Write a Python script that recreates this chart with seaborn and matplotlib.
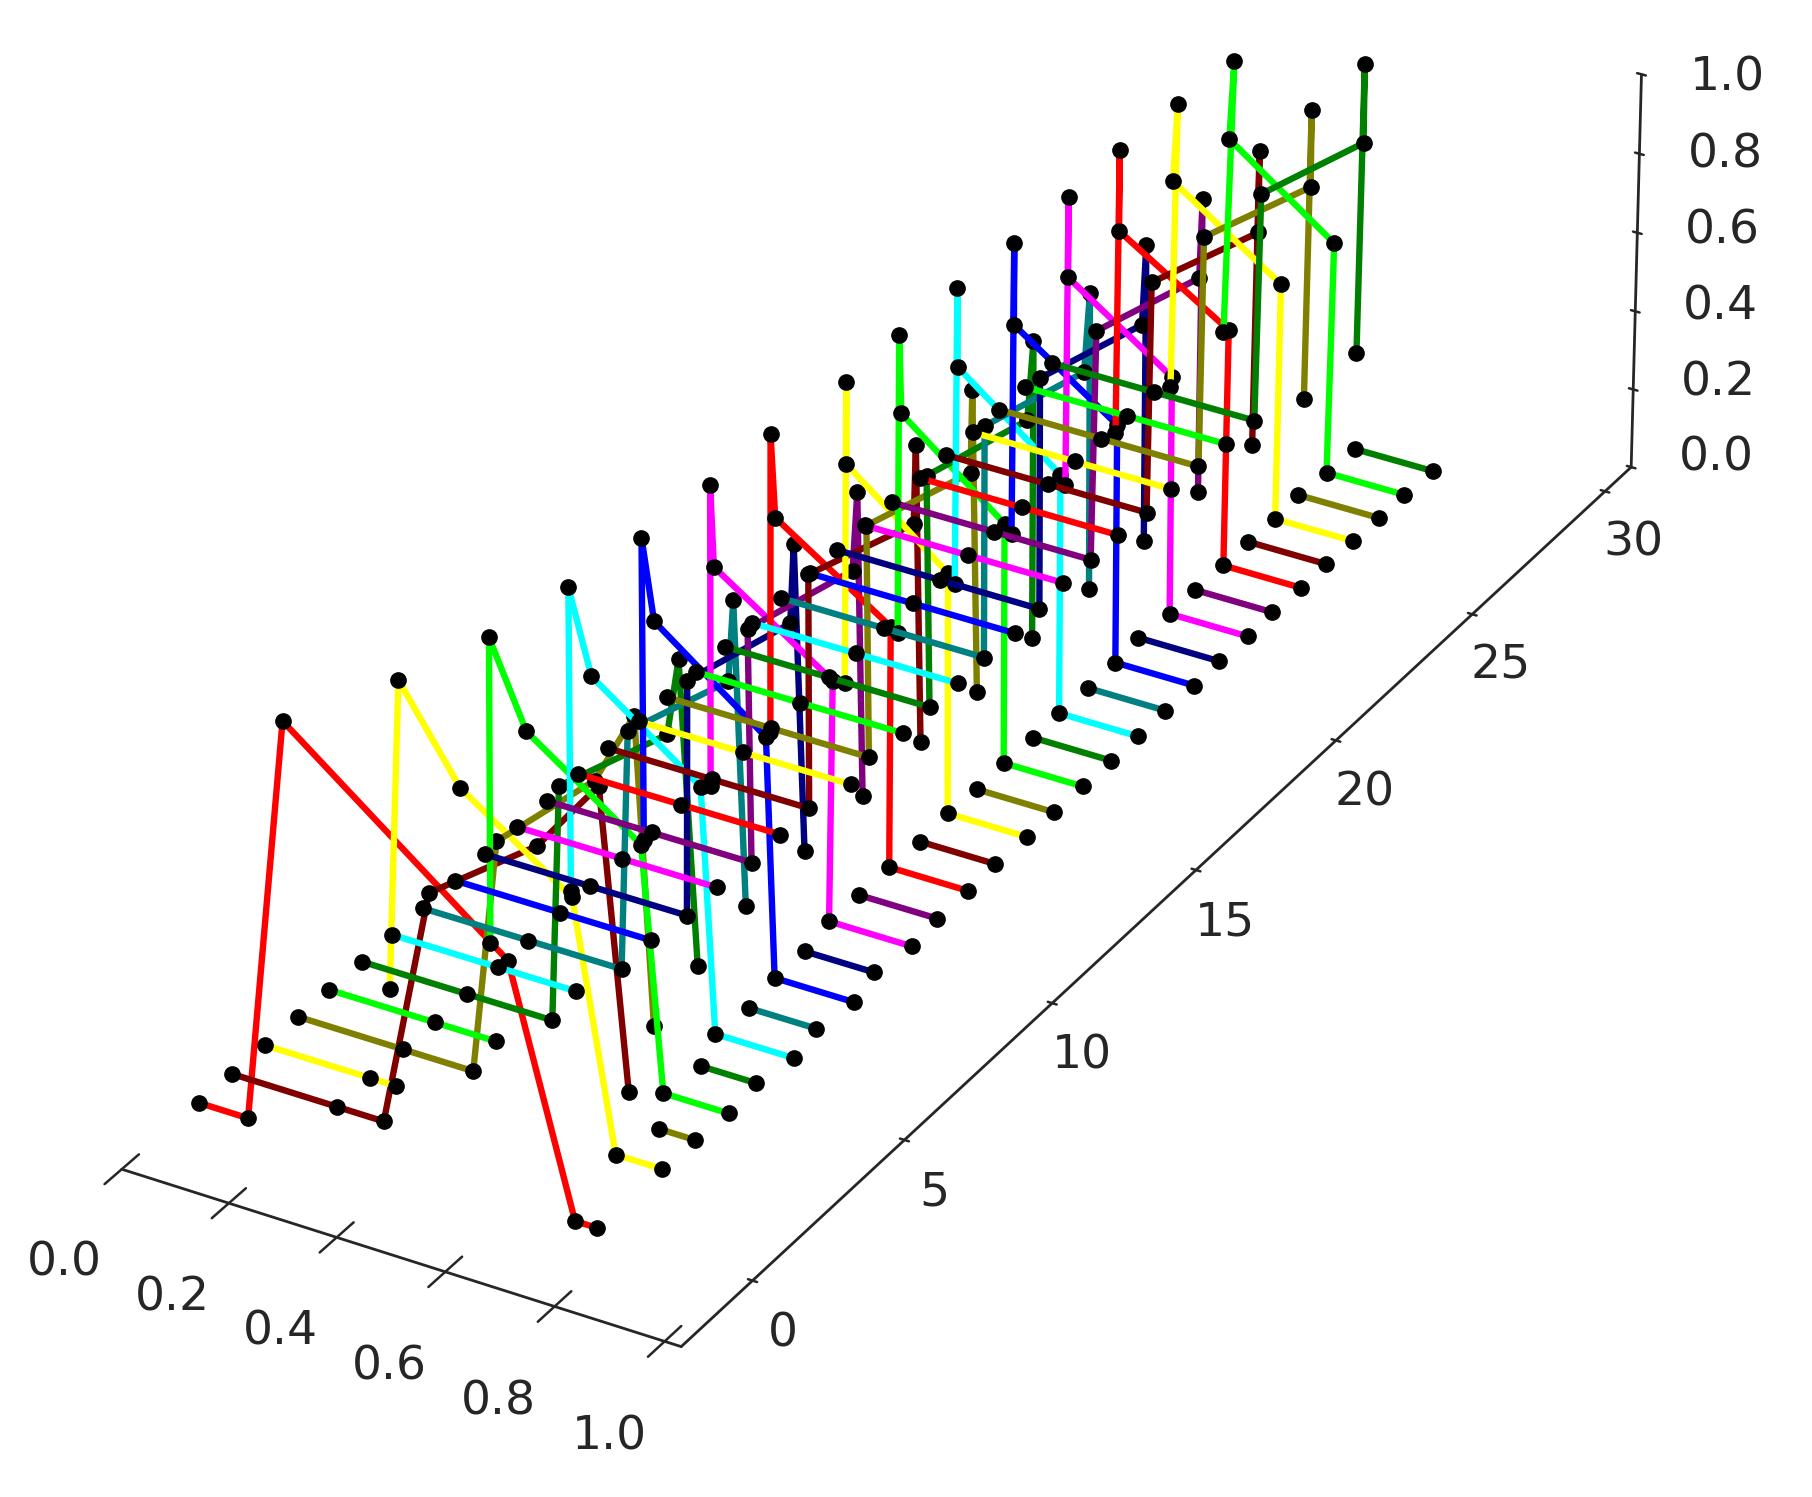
import numpy as np
import seaborn as sns
import matplotlib
matplotlib.use('Agg')
import matplotlib.pyplot as plt
from mpl_toolkits.mplot3d import proj3d

n = np.nan

color_names = ['red', 'maroon', 'yellow', 'olive', 'lime', 'green',
               'cyan', 'teal', 'blue', 'navy', 'magenta', 'purple']

x_ticks = [0.0, 0.2, 0.4, 0.6, 0.8, 1.0]
y_ticks = [0, 5, 10, 15, 20, 25, 30]
z_ticks = [0.0, 0.2, 0.4, 0.6, 0.8, 1.0]

# where each row below sits on the y axis
y_positions = [0.1, 1.15, 2.2, 3.25, 4.25, 5.3, 6.3, 7.3, 8.35, 9.35,
               10.4, 11.4, 12.45, 13.45, 14.5, 15.45, 16.45, 17.45, 18.4, 19.4,
               20.4, 21.35, 22.35, 23.3, 24.3, 25.25, 26.2, 27.15, 28.1, 29.1]

# one row per position along the y axis, nan breaks the line
line_x = [
    [0, .093, .175, .583, .700, .74],
    [0, .198, .285, .377, .577, .692, .741],
    [0, .198, .246, n, .238, .265, .376, .58, .655, .74],
    [0, .199, .330, .380, .563, .637, .668, n, .676, .742],
    [0, .200, .314, n, .307, .313, .380, .59, .627, .748],
    [0, .200, .360, .378, .580, .602, .633, n, .637, .74],
    [0, .200, .348, n, .340, .342, .383, .584, .608, .755],
    [0, .200, .376, .392, .580, .590, .610, n, .615, .74],
    [0, .200, .371, n, .360, .361, .383, .59, .604, .752],
    [0, .200, .383, .387, .580, .587, .605, n, .605, .735],
    [0, .200, .380, n, .370, .373, .379, .60, .592, .747],
    [0, .200, .390, .385, .582, .591, .600, n, .593, .74],
    [0, .196, .386, n, .368, .371, .379, .595, .592, .74],
    [0, .200, .385, .385, .583, .587, .596, n, .596, .736],
    [0, .200, .406, n, .395, .399, .399, .59, .59, .74],
    [0, .200, .388, .384, .580, .583, .593, n, .593, .74],
    [0, .200, .398, n, .388, .391, .395, .59, .59, .74],
    [0, .200, .394, .388, .578, .589, .589, n, .591, .739],
    [0, .200, .396, n, .390, .394, .395, .59, .59, .74],
    [0, .200, .392, .392, .580, .590, .592, n, .592, .738],
    [0, .200, .397, n, .390, .393, .393, .59, .59, .74],
    [0, .200, .393, .392, .585, .592, .592, n, .583, .738],
    [0, .200, .385, n, .388, .391, .391, .59, .59, .74],
    [0, .200, .387, .395, .590, .595, .592, n, .588, .736],
    [0, .200, .386, n, .380, .384, .384, .595, .59, .74],
    [0, .200, .391, .397, .600, .600, .593, n, .587, .738],
    [0, .200, .388, n, .385, .394, .386, .595, .59, .74],
    [0, .200, .391, .397, .600, .600, .593, n, .584, .741],
    [0, .200, .394, n, .387, .402, .394, .598, .59, .74],
    [0, .200, .397, .405, .600, .600, .593, n, .593, .745],
]
line_z = [
    [0, 0, 1.0, .586, 0, 0],
    [0, 0, 0, .597, .79, .98, .26],
    [0, 0, 0, n, .236, .998, .782, .598, 0, 0],
    [0, 0, 0, .585, .805, .99, .25, n, 0, 0],
    [0, 0, 0, n, .24, .988, .787, .595, 0, 0],
    [0, 0, 0, .585, .79, .98, .245, n, 0, 0],
    [0, 0, 0, n, .245, .99, .79, .60, 0, 0],
    [0, 0, 0, .595, .79, .99, .25, n, 0, 0],
    [0, 0, 0, n, .245, .988, .793, .59, 0, 0],
    [0, 0, 0, .585, .80, .995, .25, n, 0, 0],
    [0, 0, 0, n, .25, .993, .794, .60, 0, 0],
    [0, 0, 0, .58, .80, .995, .25, n, 0, 0],
    [0, 0, 0, n, .25, .988, .786, .60, 0, 0],
    [0, 0, 0, .585, .785, .98, .25, n, 0, 0],
    [0, 0, 0, n, .25, 1.0, .797, .60, 0, 0],
    [0, 0, 0, .58, .785, .99, .245, n, 0, 0],
    [0, 0, 0, n, .25, .992, .80, .60, 0, 0],
    [0, 0, 0, .58, .79, .99, .25, n, 0, 0],
    [0, 0, 0, n, .25, .99, .795, .60, 0, 0],
    [0, 0, 0, .585, .79, .99, .25, n, 0, 0],
    [0, 0, 0, n, .25, .98, .777, .60, 0, 0],
    [0, 0, 0, .585, .79, .99, .25, n, 0, 0],
    [0, 0, 0, n, .25, .977, .776, .60, 0, 0],
    [0, 0, 0, .585, .79, .99, .25, n, 0, 0],
    [0, 0, 0, n, .26, .975, .772, .60, 0, 0],
    [0, 0, 0, .59, .79, .995, .25, n, 0, 0],
    [0, 0, 0, n, .26, .98, .784, .60, 0, 0],
    [0, 0, 0, .59, .79, .985, .25, n, 0, 0],
    [0, 0, 0, n, .285, .98, .78, .59, 0, 0],
    [0, 0, 0, .585, .785, .985, .247, n, 0, 0],
]

sns.set_style('white')
plt.rcParams['font.family'] = 'DejaVu Sans'
palette = sns.color_palette([matplotlib.colors.to_rgb(c) for c in color_names])

fig = plt.figure(figsize=(18.12, 14.97), dpi=100)
ax = fig.add_axes([-0.0124, 0.0818, 1, 1], projection='3d')
ax.set_proj_type('persp', focal_length=2)

for i in range(len(line_x)):
    ys = np.full(len(line_x[i]), y_positions[i])
    ax.plot(line_x[i], ys, line_z[i], color=palette[i % 12], lw=4.6,
            marker='o', ms=11, mfc='k', mec='k')

ax.view_init(elev=30.4, azim=-60)
ax.set_xlim(0, 1.03, view_margin=0)
ax.set_ylim(-2.3, 31, view_margin=0)
ax.set_zlim(0, 1, view_margin=0)
ax.set_box_aspect((0.975, 3, 0.72), zoom=1.359)

ax.set_xticks(x_ticks)
ax.set_yticks(y_ticks)
ax.set_zticks(z_ticks)
ax.set_xticklabels(['%.1f' % t for t in x_ticks])
ax.set_zticklabels([])
ax.tick_params(axis='x', labelsize=34, colors='0.15', pad=22)
ax.tick_params(axis='y', labelsize=34, colors='0.15', pad=22)
ax.tick_params(axis='z', colors='0.15')

# z labels placed by hand, the default pad pushes them up along the long y axis
proj = ax.get_proj()
for t in z_ticks:
    px, py, _ = proj3d.proj_transform(1.153, 31.8, t - 0.012 + 0.032 * (1 - t), proj)
    ax.text2D(px, py, '%.1f' % t, transform=ax.transData, fontsize=34, color='0.15',
              ha='center', va='center')

for axis in [ax.xaxis, ax.yaxis, ax.zaxis]:
    axis.set_pane_color((1, 1, 1, 0))
    axis.pane.set_edgecolor((1, 1, 1, 0))
    axis.line.set_color('0.15')
    axis.line.set_linewidth(2)
    axis._axinfo['grid']['linewidth'] = 0
    axis._axinfo['tick']['inward_factor'] = 0.2
    axis._axinfo['tick']['outward_factor'] = 0.2
    axis._axinfo['tick']['linewidth'] = {True: 1.8, False: 1}
ax.zaxis._axinfo['tick']['inward_factor'] = 0.1
ax.zaxis._axinfo['tick']['outward_factor'] = 0.1
ax.yaxis._axinfo['tick']['inward_factor'] = 0.1
ax.yaxis._axinfo['tick']['outward_factor'] = 0.1
ax.grid(False)

fig.savefig('out.png', dpi=100)
